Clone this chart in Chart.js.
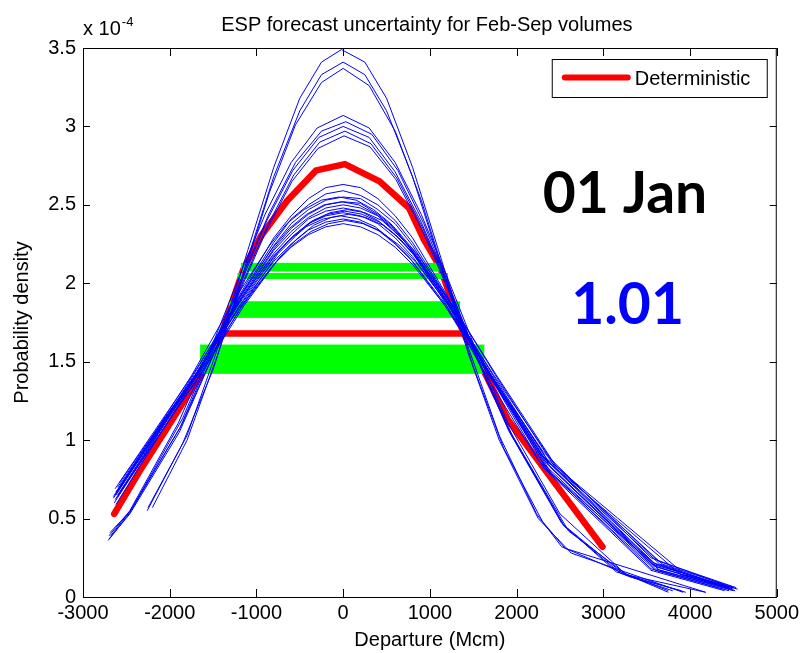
<!DOCTYPE html>
<html>
<head>
<meta charset="utf-8">
<script src="https://cdn.jsdelivr.net/npm/chart.js@4.4.0/dist/chart.umd.min.js"></script>
<style>
  html, body { margin: 0; padding: 0; background: #fff; }
  #chart { display: block; }
</style>
</head>
<body>
<canvas id="chart" width="803" height="653" style="width:803px;height:653px"></canvas>
<script>
// densities are in units of 1e-4 (the axis shows "x 10^-4")
const xTicks = [-3000, -2000, -1000, 0, 1000, 2000, 3000, 4000, 5000];
const yTicks = [0, 0.5, 1, 1.5, 2, 2.5, 3, 3.5];

// ESP ensemble members, [departure, density]
const tallMembers = [
  [[-2250,0.57],[-1800,1.03],[-1450,1.58],[-1100,2.21],[-800,2.74],[-500,3.18],[-250,3.41],[-20,3.49],[250,3.41],[500,3.18],[800,2.74],[1100,2.21],[1450,1.58],[1800,1.03],[2230,0.53],[2520,0.32],[3750,0.03]],
  [[-2200,0.57],[-1800,1.00],[-1450,1.54],[-1100,2.16],[-800,2.68],[-500,3.10],[-250,3.33],[0,3.41],[250,3.33],[500,3.10],[800,2.68],[1100,2.16],[1450,1.54],[1800,1.00],[2250,0.50],[2630,0.28],[3920,0.03]],
  [[-2260,0.55],[-1850,0.98],[-1500,1.45],[-1150,2.05],[-850,2.58],[-550,3.01],[-250,3.28],[0,3.37],[300,3.26],[600,2.97],[900,2.53],[1200,2.00],[1500,1.47],[1850,0.95],[2300,0.48],[2560,0.31],[4180,0.03]]
];

const midMembers = [
  [[-2700,0.39],[-2460,0.55],[-1900,1.11],[-1500,1.62],[-1200,2.04],[-900,2.44],[-600,2.77],[-300,2.99],[0,3.07],[300,2.99],[600,2.77],[900,2.44],[1200,2.04],[1500,1.62],[1900,1.11],[2500,0.53],[3250,0.15],[3750,0.04]],
  [[-2690,0.41],[-2450,0.55],[-1850,1.14],[-1450,1.66],[-1150,2.06],[-850,2.45],[-550,2.77],[-250,2.97],[30,3.03],[330,2.95],[630,2.72],[930,2.38],[1230,1.97],[1530,1.55],[1950,1.03],[2600,0.42],[3300,0.13],[3900,0.04]],
  [[-2710,0.36],[-2470,0.53],[-1880,1.08],[-1480,1.60],[-1180,2.00],[-880,2.40],[-580,2.72],[-280,2.93],[0,3.00],[300,2.93],[600,2.71],[900,2.39],[1200,2.00],[1500,1.59],[1900,1.08],[2550,0.45],[3200,0.15],[4180,0.03]],
  [[-2680,0.39],[-2440,0.56],[-1870,1.09],[-1470,1.58],[-1170,1.99],[-870,2.37],[-570,2.69],[-270,2.90],[20,2.97],[320,2.89],[620,2.67],[920,2.35],[1220,1.96],[1520,1.55],[1920,1.05],[2520,0.47],[3150,0.16],[3950,0.03]],
  [[-2700,0.37],[-2460,0.53],[-1890,1.05],[-1490,1.55],[-1190,1.95],[-890,2.33],[-590,2.65],[-290,2.86],[10,2.94],[310,2.87],[610,2.66],[910,2.34],[1210,1.96],[1510,1.56],[1910,1.06],[2540,0.46],[3250,0.14],[3800,0.04]]
];

const lowMembers = [
  [[-2620,0.59],[-1700,1.40],[-1200,1.92],[-800,2.29],[-600,2.43],[-400,2.54],[-200,2.61],[0,2.63],[200,2.61],[400,2.54],[600,2.43],[800,2.29],[1200,1.92],[1700,1.40],[2300,0.83],[3550,0.17],[4400,0.04]],
  [[-2640,0.60],[-1700,1.41],[-1200,1.91],[-800,2.26],[-600,2.41],[-400,2.50],[-200,2.57],[0,2.59],[200,2.56],[400,2.50],[600,2.40],[800,2.26],[1200,1.91],[1700,1.41],[2350,0.81],[3600,0.17],[4450,0.04]],
  [[-2630,0.62],[-1700,1.41],[-1200,1.90],[-800,2.24],[-600,2.38],[-400,2.47],[-200,2.53],[0,2.55],[200,2.54],[400,2.47],[600,2.38],[800,2.24],[1200,1.90],[1700,1.41],[2400,0.79],[3650,0.17],[4500,0.04]],
  [[-2600,0.65],[-1700,1.42],[-1200,1.89],[-800,2.22],[-600,2.35],[-400,2.44],[-200,2.50],[0,2.52],[200,2.51],[400,2.44],[600,2.35],[800,2.22],[1200,1.89],[1700,1.42],[2300,0.88],[3580,0.20],[4520,0.04]],
  [[-2650,0.63],[-1700,1.42],[-1200,1.88],[-800,2.21],[-600,2.33],[-400,2.42],[-200,2.48],[0,2.50],[200,2.48],[400,2.43],[600,2.33],[800,2.21],[1200,1.88],[1700,1.42],[2350,0.85],[3620,0.19],[4480,0.05]],
  [[-2610,0.67],[-1700,1.42],[-1200,1.88],[-800,2.19],[-600,2.31],[-400,2.41],[-200,2.46],[0,2.48],[200,2.46],[400,2.40],[600,2.31],[800,2.19],[1200,1.88],[1700,1.42],[2400,0.82],[3560,0.21],[4550,0.05]],
  [[-2600,0.64],[-1650,1.42],[-1150,1.87],[-750,2.19],[-550,2.30],[-350,2.40],[-150,2.45],[50,2.47],[250,2.45],[450,2.40],[650,2.30],[850,2.19],[1250,1.87],[1750,1.42],[2450,0.82],[3650,0.21],[4450,0.06]],
  [[-2620,0.67],[-1700,1.42],[-1200,1.87],[-800,2.17],[-600,2.29],[-400,2.38],[-200,2.43],[0,2.45],[200,2.43],[400,2.38],[600,2.29],[800,2.17],[1200,1.87],[1700,1.42],[2300,0.90],[3600,0.21],[4500,0.05]],
  [[-2630,0.69],[-1730,1.42],[-1230,1.86],[-830,2.16],[-630,2.27],[-430,2.36],[-230,2.41],[-30,2.43],[170,2.41],[370,2.36],[570,2.27],[770,2.16],[1170,1.86],[1670,1.42],[2270,0.91],[3570,0.22],[4420,0.06]],
  [[-2600,0.70],[-1700,1.42],[-1200,1.85],[-800,2.14],[-600,2.25],[-400,2.34],[-200,2.39],[0,2.41],[200,2.39],[400,2.34],[600,2.25],[800,2.14],[1200,1.85],[1700,1.42],[2350,0.88],[3950,0.14],[4500,0.06]],
  [[-2570,0.71],[-1670,1.42],[-1170,1.85],[-770,2.14],[-570,2.25],[-370,2.33],[-170,2.38],[30,2.40],[230,2.38],[430,2.33],[630,2.25],[830,2.14],[1230,1.85],[1730,1.42],[2430,0.85],[3630,0.23],[4530,0.06]],
  [[-2580,0.73],[-1700,1.42],[-1200,1.84],[-800,2.12],[-600,2.23],[-400,2.31],[-200,2.36],[0,2.38],[200,2.36],[400,2.31],[600,2.23],[800,2.12],[1200,1.84],[1700,1.42],[2300,0.93],[3550,0.25],[4430,0.07]],
  [[-2650,0.64],[-1750,1.41],[-1250,1.90],[-850,2.24],[-650,2.38],[-450,2.47],[-250,2.53],[-50,2.55],[150,2.53],[350,2.47],[550,2.38],[750,2.24],[1150,1.90],[1650,1.41],[2250,0.87],[3550,0.18],[4380,0.05]],
  [[-2630,0.65],[-1680,1.42],[-1180,1.87],[-780,2.18],[-580,2.30],[-380,2.39],[-180,2.44],[20,2.46],[220,2.44],[420,2.39],[620,2.30],[820,2.18],[1220,1.87],[1720,1.42],[2370,0.86],[3900,0.14],[4470,0.06]],
  [[-2620,0.65],[-1720,1.42],[-1220,1.89],[-820,2.22],[-620,2.35],[-420,2.44],[-220,2.50],[-20,2.52],[180,2.50],[380,2.44],[580,2.35],[780,2.22],[1180,1.89],[1680,1.42],[2330,0.84],[3600,0.18],[4460,0.05]],
  [[-2560,0.68],[-1640,1.42],[-1140,1.86],[-740,2.16],[-540,2.28],[-340,2.37],[-140,2.42],[60,2.44],[260,2.42],[460,2.37],[660,2.28],[860,2.16],[1260,1.86],[1760,1.42],[2460,0.83],[3680,0.21],[4510,0.06]]
];

// deterministic forecast
const detX = [-2640, -2350, -2050, -1800, -1600, -1400, -1310, -1150, -950, -640, -310, 20, 420, 760, 930, 1120, 1290, 1390, 1650, 1900, 2450, 2990];
const detY = [0.53, 0.80, 1.06, 1.28, 1.45, 1.68, 1.83, 2.09, 2.30, 2.53, 2.72, 2.76, 2.65, 2.48, 2.28, 2.10, 1.83, 1.68, 1.41, 1.13, 0.72, 0.32];
const detBarX = [-1405, 1390];
const detBarY = 1.68;

// green uncertainty bands
const bandLeft = [-1180, -1220, -1320, -1650];
const bandRight = [1140, 1210, 1350, 1630];
const bandTop = [2.127, 2.062, 1.882, 1.606];
const bandBottom = [2.078, 2.031, 1.783, 1.426];

const dateLabel = '01 Jan';
const ratioLabel = '1.01';

const FONT = "'Liberation Sans', Arial, Helvetica, sans-serif";

const datasets = [];

[...tallMembers, ...midMembers, ...lowMembers].forEach(m => {
  datasets.push({
    label: 'member',
    data: m.map(p => ({x: p[0], y: p[1]})),
    borderColor: '#0000ff',
    borderWidth: 1,
    showLine: true,
    pointRadius: 0,
    order: 0
  });
});

bandTop.forEach((t, i) => {
  datasets.push({
    label: 'band',
    data: [{x: bandLeft[i], y: t}, {x: bandRight[i], y: t}],
    borderColor: '#00ff00',
    backgroundColor: '#00ff00',
    borderWidth: 1,
    showLine: true,
    pointRadius: 0,
    fill: '+1',
    order: 1
  });
  datasets.push({
    label: 'band',
    data: [{x: bandLeft[i], y: bandBottom[i]}, {x: bandRight[i], y: bandBottom[i]}],
    borderColor: '#00ff00',
    borderWidth: 1,
    showLine: true,
    pointRadius: 0,
    fill: false,
    order: 1
  });
});

datasets.push({
  label: 'Deterministic',
  data: detX.map((x, i) => ({x: x, y: detY[i]})),
  borderColor: '#ff0000',
  borderWidth: 6.5,
  borderCapStyle: 'round',
  borderJoinStyle: 'round',
  showLine: true,
  pointRadius: 0,
  order: 2
});
datasets.push({
  label: 'detBar',
  data: detBarX.map(x => ({x: x, y: detBarY})),
  borderColor: '#ff0000',
  borderWidth: 6.5,
  showLine: true,
  pointRadius: 0,
  order: 2
});

// matlab style box, inward ticks, legend and labels
const matlabFrame = {
  id: 'matlabFrame',
  afterDraw(chart) {
    const {ctx, chartArea: a, scales: {x, y}} = chart;
    ctx.save();
    ctx.strokeStyle = '#000';
    ctx.lineWidth = 1;
    ctx.strokeRect(a.left + 0.5, a.top + 0.5, a.right - a.left - 1, a.bottom - a.top);

    ctx.beginPath();
    xTicks.forEach(v => {
      const px = Math.round(x.getPixelForValue(v)) + 0.5;
      ctx.moveTo(px, a.bottom); ctx.lineTo(px, a.bottom - 8);
      ctx.moveTo(px, a.top); ctx.lineTo(px, a.top + 8);
    });
    yTicks.forEach(v => {
      const py = Math.round(y.getPixelForValue(v)) + 0.5;
      ctx.moveTo(a.left, py); ctx.lineTo(a.left + 7, py);
      ctx.moveTo(a.right, py); ctx.lineTo(a.right - 7, py);
    });
    ctx.stroke();

    // title and exponent
    ctx.fillStyle = '#000';
    ctx.textBaseline = 'alphabetic';
    ctx.textAlign = 'center';
    ctx.font = '20px ' + FONT;
    ctx.fillText('ESP forecast uncertainty for Feb-Sep volumes', (a.left + a.right) / 2 - 3, 31);
    ctx.textAlign = 'left';
    ctx.fillText('x 10', a.left, 35);
    const w = ctx.measureText('x 10').width;
    ctx.font = '13px ' + FONT;
    ctx.fillText('-4', a.left + w + 1, 26);

    // legend
    const lx = a.right - 225, ly = a.top + 11;
    ctx.fillStyle = '#fff';
    ctx.fillRect(lx, ly, 215, 38);
    ctx.strokeRect(lx + 0.5, ly + 0.5, 215, 38);
    ctx.strokeStyle = '#ff0000';
    ctx.lineWidth = 6;
    ctx.lineCap = 'round';
    ctx.beginPath();
    ctx.moveTo(lx + 13, ly + 18.5); ctx.lineTo(lx + 76, ly + 18.5);
    ctx.stroke();
    ctx.fillStyle = '#000';
    ctx.font = '20px ' + FONT;
    ctx.fillText('Deterministic', lx + 83, ly + 26);

    // date and ratio annotations
    ctx.textAlign = 'center';
    ctx.font = "bold 57px Lato, 'Open Sans', sans-serif";
    ctx.fillStyle = '#000';
    ctx.fillText(dateLabel, x.getPixelForValue(3250), y.getPixelForValue(2.45));
    ctx.fillStyle = '#0000ff';
    ctx.fillText(ratioLabel, x.getPixelForValue(3280), y.getPixelForValue(1.74));
    ctx.restore();
  }
};

new Chart(document.getElementById('chart'), {
  type: 'scatter',
  data: { datasets: datasets },
  options: {
    responsive: false,
    animation: false,
    events: [],
    layout: { padding: { left: 0, right: 24, top: 48, bottom: 0 } },
    plugins: {
      legend: { display: false },
      tooltip: { enabled: false }
    },
    scales: {
      x: {
        type: 'linear',
        min: -3000,
        max: 5000,
        afterFit: s => { s.height = 56; },
        afterBuildTicks: s => { s.ticks = xTicks.map(v => ({value: v})); },
        grid: { display: false, drawTicks: false },
        border: { display: false },
        ticks: { color: '#000', font: { family: FONT, size: 20 }, padding: 4, maxRotation: 0, callback: v => String(v) },
        title: { display: true, text: 'Departure (Mcm)', color: '#000', font: { family: FONT, size: 20 }, padding: { top: 0, bottom: 1 } }
      },
      y: {
        min: 0,
        max: 3.5,
        afterFit: s => { s.width = 83; },
        afterBuildTicks: s => { s.ticks = yTicks.map(v => ({value: v})); },
        grid: { display: false, drawTicks: false },
        border: { display: false },
        ticks: { color: '#000', font: { family: FONT, size: 20 }, padding: 7, callback: v => String(v) },
        title: { display: true, text: 'Probability density', color: '#000', font: { family: FONT, size: 20 }, padding: { top: 10, bottom: 0 } }
      }
    }
  },
  plugins: [matlabFrame]
});
</script>
</body>
</html>
